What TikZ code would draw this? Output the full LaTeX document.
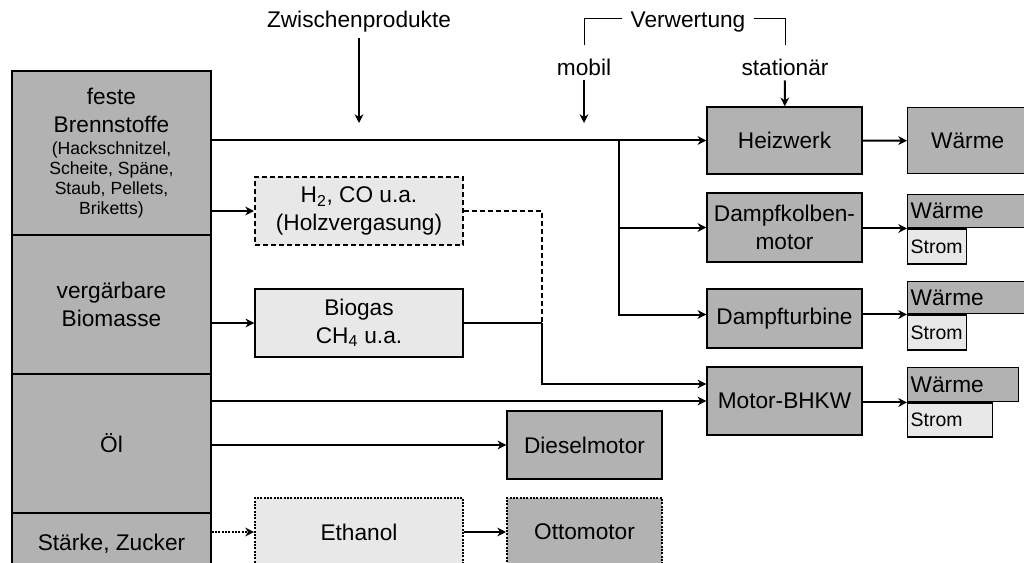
\documentclass[tikz,border=0pt]{standalone}
\usepackage{fontspec}
\setmainfont{Liberation Sans}
\usetikzlibrary{arrows.meta}

\newcommand{\pxu}{0.75pt}
\newcommand{\sml}{\fontsize{13.2}{15.5}\selectfont}
\newcommand{\smw}{\fontsize{14.6}{17}\selectfont}
\definecolor{boxdark}{gray}{0.70}
\definecolor{boxlight}{gray}{0.91}

\begin{document}
\begin{tikzpicture}[x=0.75pt, y=-0.75pt, line width=1.1pt,
    font=\fontsize{17}{20.5}\selectfont,
    src/.style={draw, fill=boxdark, minimum width=199*\pxu, align=center, inner sep=0pt},
    mid/.style={draw, fill=boxlight, minimum width=208*\pxu, minimum height=68*\pxu, align=center},
    eng/.style={draw, fill=boxdark, minimum width=155*\pxu, minimum height=68*\pxu, align=center},
    outbox/.style={draw, fill=boxdark, anchor=north west, inner xsep=3*\pxu, inner ysep=0pt, align=left},
    strom/.style={outbox, fill=boxlight, font=\smw, minimum height=35*\pxu},
    flow/.style={-{Stealth[length=6.5pt, width=6.5pt, inset=2pt]}, line width=1.5pt}]
                    \useasboundingbox (0,0) rectangle (1024,563);
                    \clip (0,0) rectangle (1024,563);

                    \node[src, minimum height=164*\pxu] (fest) at (111.5,153) {feste\\Brennstoffe\\[-4pt]\sml (Hackschnitzel,\\[-5.5pt]\sml Scheite, Späne,\\[-5.5pt]\sml Staub, Pellets,\\[-5.5pt]\sml Briketts)};
                    \node[src, minimum height=139*\pxu] (bio) at (111.5,304.5) {vergärbare\\Biomasse};
                    \node[src, minimum height=139*\pxu] (oel) at (111.5,443.5) {Öl};
                    \node[src, minimum height=62*\pxu] (zucker) at (111.5,544) {Stärke, Zucker};

                    \node[mid, dashed, dash pattern=on 3.5pt off 2.5pt, line width=1.5pt] (gas) at (359,211) {H\textsubscript{2}, CO u.a.\\(Holzvergasung)};
                    \node[mid] (biogas) at (359,323) {Biogas\\CH\textsubscript{4} u.a.};
                    \node[mid, densely dotted, line width=1.5pt] (ethanol) at (359,532) {Ethanol};
                    \node[eng] (diesel) at (584.5,445) {Dieselmotor};
                    \node[eng, densely dotted, line width=1.5pt] (otto) at (584.5,532) {Ottomotor};

                    \node[eng, minimum height=67*\pxu] (heiz) at (784.5,140.5) {Heizwerk};
                    \node[eng, minimum height=69*\pxu] (dkm) at (784.5,227.5) {Dampfkolben-\\motor};
                    \node[eng, minimum height=59*\pxu] (dt) at (784.5,318.5) {Dampfturbine};
                    \node[eng] (bhkw) at (784.5,401) {Motor-BHKW};

                    \node[outbox, align=center, text width=114*\pxu, minimum height=66*\pxu] (w1) at (907,107) {Wärme};
                    \node[outbox, text width=114*\pxu, minimum height=33*\pxu] (w2) at (907,194) {Wärme};
                    \node[strom, text width=53*\pxu] (s2) at (w2.south west) {Strom};
                    \node[outbox, text width=114*\pxu, minimum height=32*\pxu] (w3) at (907,281) {Wärme};
                    \node[strom, text width=53*\pxu] (s3) at (w3.south west) {Strom};
                    \node[outbox, text width=105*\pxu, minimum height=34*\pxu] (w4) at (907,367) {Wärme};
                    \node[strom, text width=79*\pxu, minimum height=34*\pxu] (s4) at (w4.south west) {Strom};

                    \node (zw) at (359,22) {Zwischenprodukte};
                    \coordinate (zwend) at (359,123);
                    \node[inner xsep=8*\pxu] (vw) at (688,22) {Verwertung};
                    \node (mob) at (584,67) {mobil};
                    \coordinate (mobend) at (584,123);
                    \node (sta) at (785,67) {stationär};

                    \draw[line width=0.75pt] (mob.north) ++(0,-8) |- ([yshift=2.25pt]vw.west);
                    \draw[line width=0.75pt] (sta.north) ++(0,-8) |- ([yshift=2.25pt]vw.east);
                    \draw[flow] (zw) -- (zwend);
                    \draw[flow] (mob) -- (mobend);
                    \draw[flow] (sta) -- (heiz);

                    \coordinate (j1) at (619,140.5);
                    \coordinate (j2) at (542,323);
                    \draw[flow] (fest.east |- heiz.west) -- (heiz.west);
                    \draw[flow] (j1) |- (dkm.west);
                    \draw[flow] (j1) |- ([yshift=3pt]dt.west);
                    \draw[flow] (fest.east |- gas.west) -- (gas.west);
                    \draw[flow] (bio.east |- biogas.west) -- (biogas.west);
                    \draw[line width=1.5pt, dash pattern=on 3.5pt off 2.5pt] (gas.east) -| (j2);
                    \draw[line width=0.9pt] (biogas.east) -- (j2);
                    \draw[flow] (j2) |- ([yshift=12.75pt]bhkw.west);
                    \draw[flow] (oel.east |- bhkw.west) -- (bhkw.west);
                    \draw[flow] (oel.east |- diesel.west) -- (diesel.west);
                    \draw[flow, densely dotted] (zucker.east |- ethanol.west) -- (ethanol.west);
                    \draw[flow] (ethanol) -- (otto);

                    \draw[flow] (heiz) -- (w1);
                    \draw[flow] (dkm.east |- w2.south west) -- (w2.south west);
                    \draw[flow] (dt.east |- w3.south west) -- (w3.south west);
                    \draw[flow] (bhkw.east |- w4.south west) -- (w4.south west);
                \end{tikzpicture}
\end{document}
